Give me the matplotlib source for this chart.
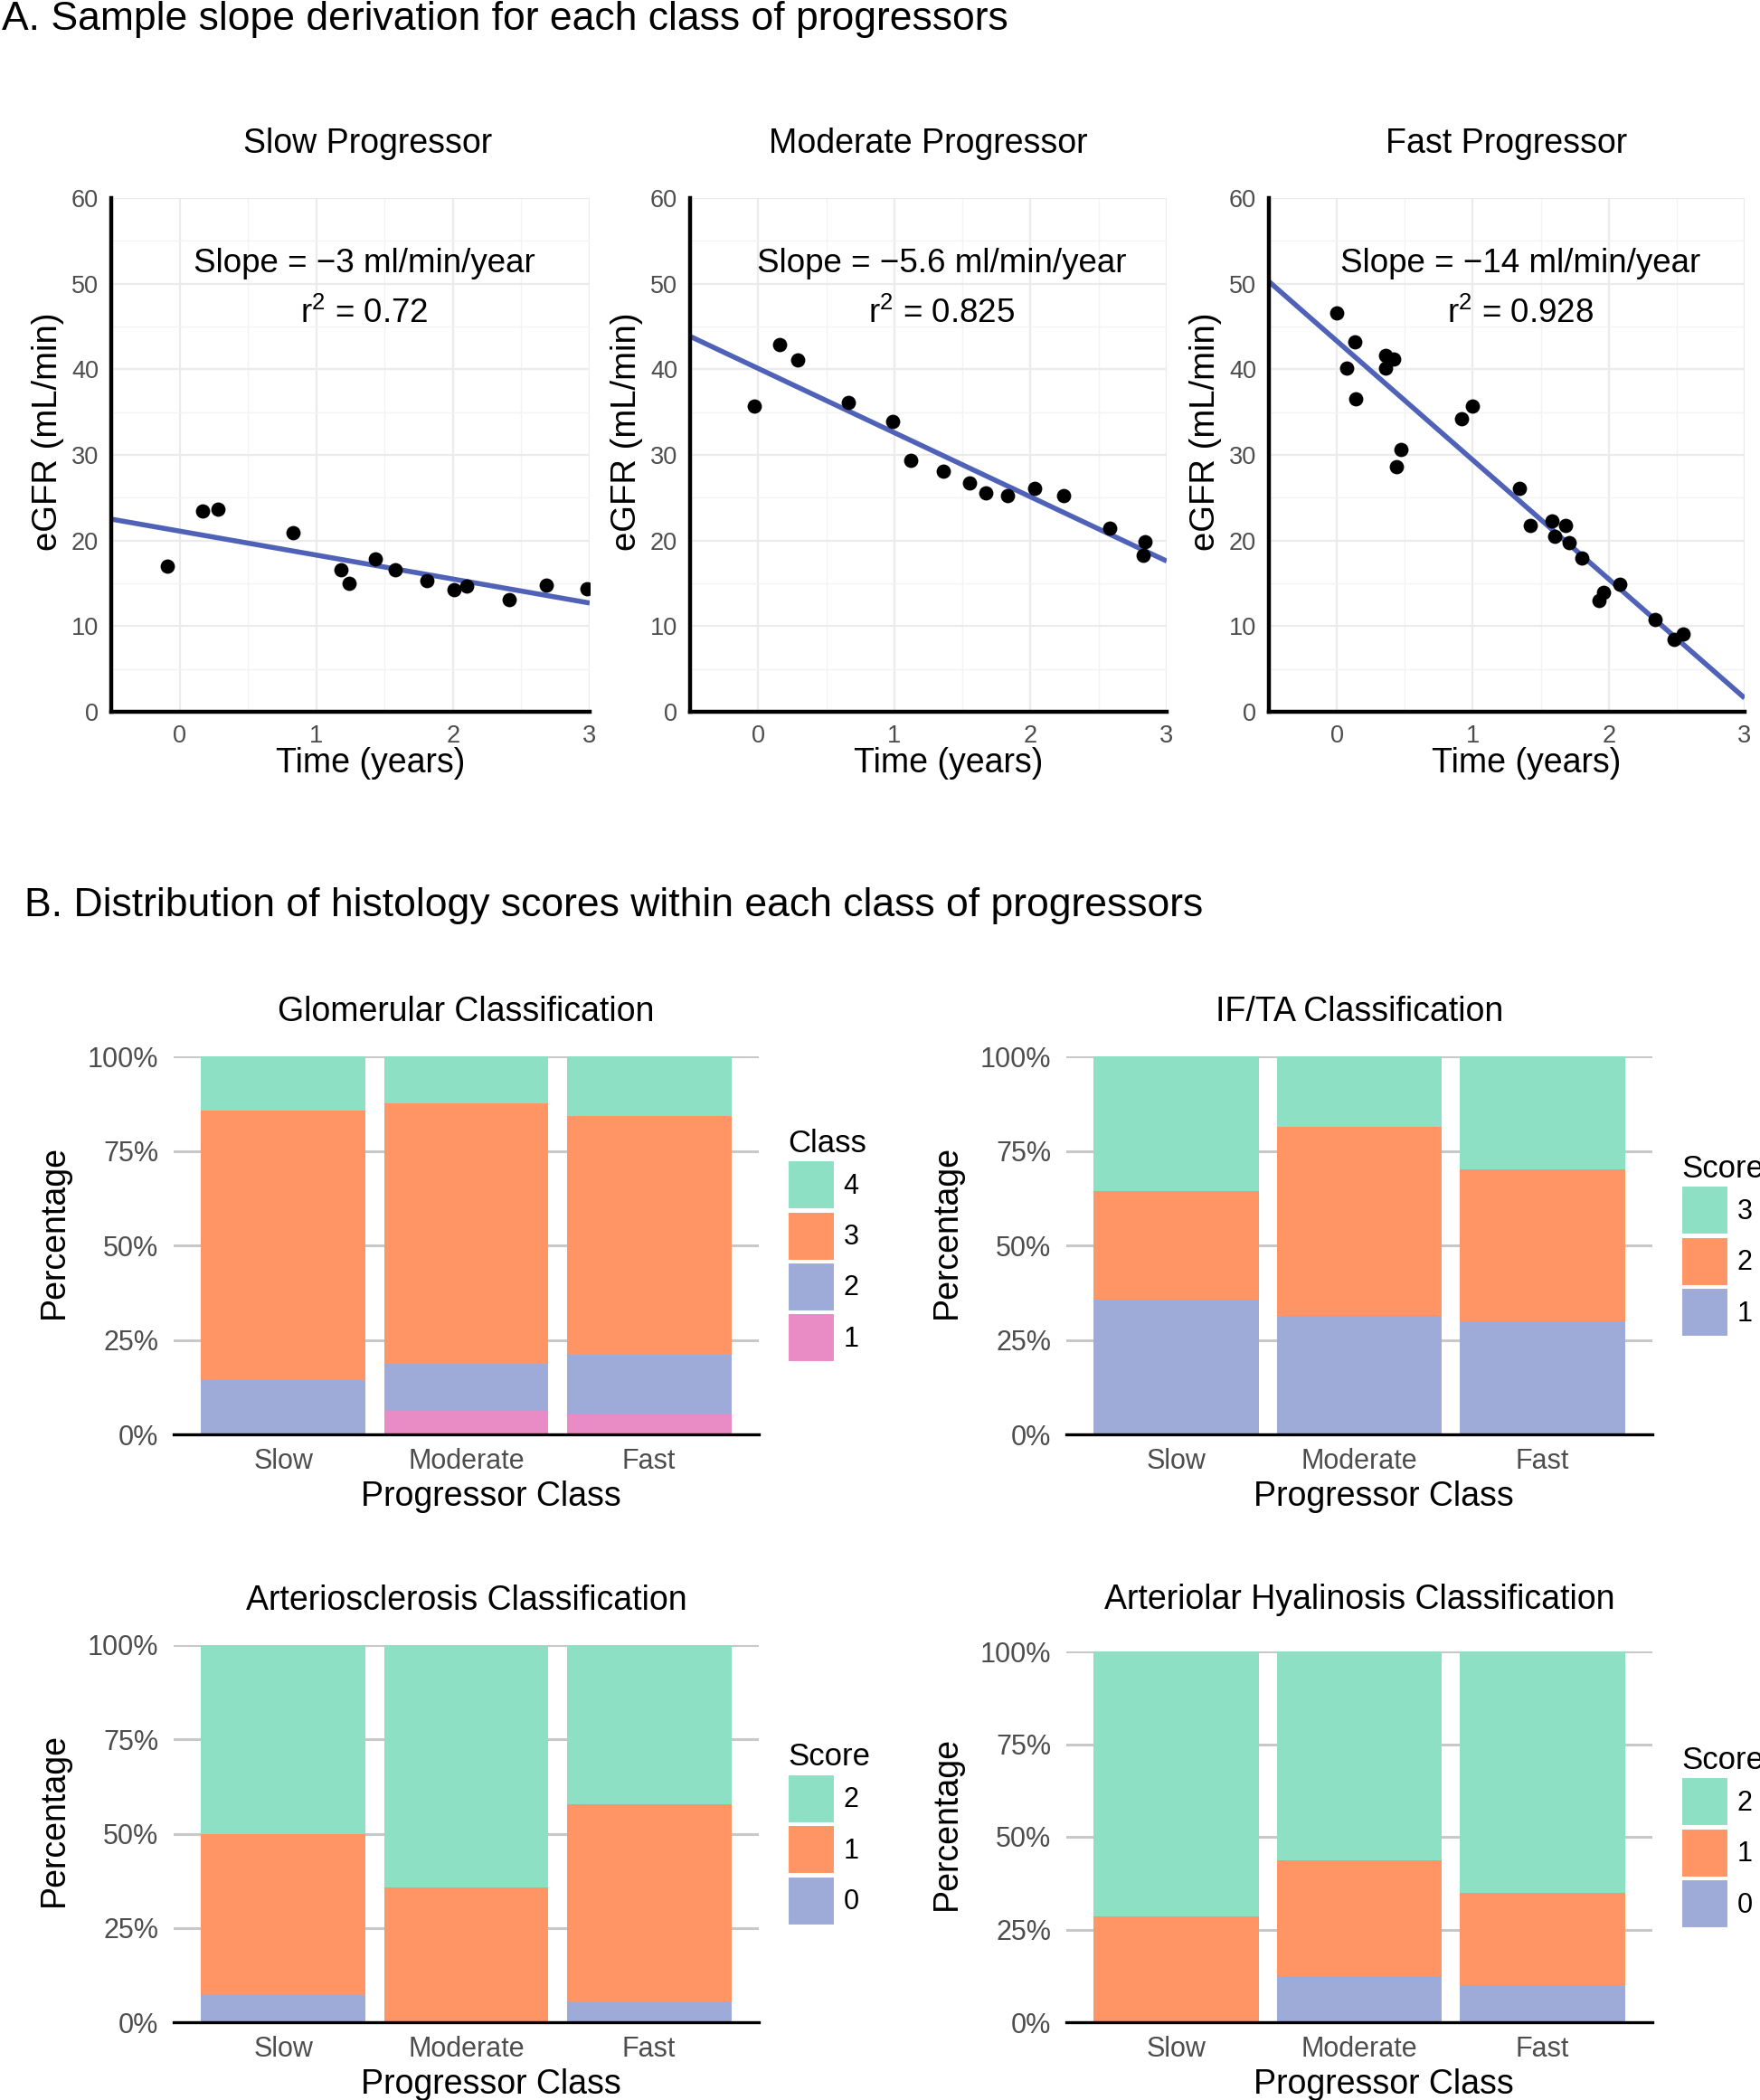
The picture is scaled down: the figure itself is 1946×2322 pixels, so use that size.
import numpy as np
import matplotlib
matplotlib.use("Agg")
import matplotlib.pyplot as plt
from matplotlib.patches import Patch
from matplotlib.ticker import MultipleLocator, PercentFormatter

plt.rcParams['font.family'] = ['Liberation Sans', 'DejaVu Sans']
plt.rcParams['mathtext.fontset'] = 'custom'
plt.rcParams['mathtext.rm'] = 'Liberation Sans'

# ---- Panel A: sample eGFR trajectories ----
slow_time = [-0.09, 0.17, 0.28, 0.83, 1.18, 1.24, 1.43, 1.58, 1.81, 2.01, 2.10, 2.41, 2.68, 2.98]
slow_egfr = [17.0, 23.5, 23.7, 20.9, 16.6, 15.0, 17.8, 16.6, 15.3, 14.3, 14.7, 13.1, 14.8, 14.4]

mod_time = [-0.03, 0.16, 0.29, 0.66, 0.99, 1.12, 1.36, 1.55, 1.67, 1.83, 2.03, 2.24, 2.58, 2.84, 2.83]
mod_egfr = [35.7, 42.9, 41.1, 36.1, 33.9, 29.4, 28.1, 26.7, 25.6, 25.2, 26.1, 25.2, 21.4, 19.9, 18.3]

fast_time = [0.00, 0.13, 0.07, 0.14, 0.36, 0.42, 0.36, 0.47, 0.44, 0.92, 1.00, 1.34, 1.42,
             1.58, 1.60, 1.68, 1.71, 1.80, 1.93, 1.96, 2.08, 2.34, 2.48, 2.55]
fast_egfr = [46.6, 43.2, 40.1, 36.5, 41.6, 41.2, 40.1, 30.6, 28.6, 34.2, 35.7, 26.1, 21.8,
             22.3, 20.5, 21.8, 19.8, 18.0, 13.0, 13.9, 14.9, 10.8, 8.4, 9.1]

fit_intercept = [21.1, 40.1, 43.3]
fit_slope = [-2.8, -7.5, -13.9]
slope_labels = ["Slope = \u22123 ml/min/year", "Slope = \u22125.6 ml/min/year", "Slope = \u221214 ml/min/year"]
r2_labels = ["0.72", "0.825", "0.928"]
titles_a = ["Slow Progressor", "Moderate Progressor", "Fast Progressor"]
title_x_a = [0.536, 0.5, 0.5]

# ---- Panel B: histology score distributions (%) ----
progressor = ["Slow", "Moderate", "Fast"]

glom_1 = [0.0, 6.25, 5.3]
glom_2 = [14.3, 12.5, 15.8]
glom_3 = [71.4, 68.75, 63.2]
glom_4 = [14.3, 12.5, 15.8]

ifta_1 = [35.7, 31.25, 30.0]
ifta_2 = [28.6, 50.0, 40.0]
ifta_3 = [35.7, 18.75, 30.0]

art_0 = [7.1, 0.0, 5.3]
art_1 = [42.9, 35.7, 52.6]
art_2 = [50.0, 64.3, 42.1]

hyal_0 = [0.0, 12.5, 10.0]
hyal_1 = [28.6, 31.25, 25.0]
hyal_2 = [71.4, 56.25, 65.0]

TEAL = '#8DE0C4'
ORANGE = '#FF9464'
BLUE = '#9EABD8'
PINK = '#E98CC6'
GREY_TXT = '#4D4D4D'

W, H = 1946, 2322
fig = plt.figure(figsize=(W / 100, H / 100), dpi=100)


def px_axes(left, top, right, bottom):
    return fig.add_axes([left / W, 1 - bottom / H, (right - left) / W, (bottom - top) / H])


def slope_panel(ax, x, y, b0, b1, title, title_x, slope_txt, r2):
    ax.grid(True, which='major', color='#EBEBEB', lw=1.6, zorder=0)
    ax.grid(True, which='minor', color='#F3F3F3', lw=1.0, zorder=0)
    xs = np.array([-0.5, 3.0])
    ax.plot(xs, b0 + b1 * xs, color='#4F62B8', lw=4.0, zorder=2, solid_capstyle='butt')
    ax.scatter(x, y, s=130, color='black', zorder=3, linewidths=0)
    ax.set_xlim(-0.5, 3)
    ax.set_ylim(0, 60)
    ax.xaxis.set_major_locator(MultipleLocator(1))
    ax.xaxis.set_minor_locator(MultipleLocator(0.5))
    ax.yaxis.set_major_locator(MultipleLocator(10))
    ax.yaxis.set_minor_locator(MultipleLocator(5))
    for side in ['top', 'right']:
        ax.spines[side].set_visible(False)
    for side in ['left', 'bottom']:
        ax.spines[side].set_linewidth(3.2)
        ax.spines[side].set_color('black')
        ax.spines[side].set_zorder(4)
    ax.tick_params(which='both', length=0, labelsize=19.5, labelcolor=GREY_TXT)
    ax.tick_params(axis='y', pad=10)
    ax.tick_params(axis='x', pad=10)
    ax.set_title(title, fontsize=27, pad=36, x=title_x)
    ax.set_xlabel("Time (years)", fontsize=27, labelpad=-1, x=0.542)
    ax.set_ylabel("eGFR (mL/min)", fontsize=27.5, labelpad=6, y=0.545)
    ax.text(1.35, 52.3, slope_txt, fontsize=26.5, ha='center', va='center')
    ax.text(1.35, 46.5, "r$^2$ = " + r2, fontsize=26.5, ha='center', va='center')


a_rects = [(123, 219, 652, 787), (763, 219, 1290, 787), (1403, 219, 1929, 787)]
a_data = [(slow_time, slow_egfr), (mod_time, mod_egfr), (fast_time, fast_egfr)]
for i in range(3):
    ax = px_axes(*a_rects[i])
    slope_panel(ax, a_data[i][0], a_data[i][1], fit_intercept[i], fit_slope[i],
                titles_a[i], title_x_a[i], slope_labels[i], r2_labels[i])


def stacked_panel(ax, layers, labels, colors, title, legend_title, title_pad=28):
    pos = np.arange(len(progressor))
    bottom = np.zeros(len(progressor))
    for vals, col in zip(layers, colors):
        ax.bar(pos, vals, width=0.9, bottom=bottom, color=col, zorder=2, linewidth=0)
        bottom += np.array(vals)
    ax.set_xlim(-0.6, 2.6)
    ax.set_ylim(0, 100)
    ax.set_yticks([0, 25, 50, 75, 100])
    ax.yaxis.set_major_formatter(PercentFormatter(decimals=0))
    ax.set_xticks(pos)
    ax.set_xticklabels(progressor)
    ax.grid(True, axis='y', color='#C8C8C8', lw=2.2, zorder=0)
    ax.set_axisbelow(True)
    for side in ['top', 'right', 'left']:
        ax.spines[side].set_visible(False)
    ax.spines['bottom'].set_linewidth(2.4)
    ax.spines['bottom'].set_zorder(4)
    ax.tick_params(length=0, labelsize=22, labelcolor=GREY_TXT)
    ax.tick_params(axis='y', pad=12)
    ax.tick_params(axis='x', pad=11)
    ax.set_title(title, fontsize=27, pad=title_pad)
    ax.set_xlabel("Progressor Class", fontsize=27, labelpad=4, x=0.542)
    ax.set_ylabel("Percentage", fontsize=27, labelpad=14, y=0.537)
    handles = [Patch(facecolor=c, edgecolor='white', lw=1.5) for c in colors][::-1]
    ax.legend(handles, labels[::-1], title=legend_title, loc='center left',
              bbox_to_anchor=(1.05, 0.5), frameon=False, fontsize=22,
              title_fontsize=25, handlelength=1.7, handleheight=2.34,
              labelspacing=0.08, handletextpad=0.3, borderpad=0,
              borderaxespad=0, alignment='left')


ax = px_axes(192, 1168, 839, 1586)
stacked_panel(ax, [glom_1, glom_2, glom_3, glom_4], ["1", "2", "3", "4"],
              [PINK, BLUE, ORANGE, TEAL], "Glomerular Classification", "Class")
ax = px_axes(1179, 1168, 1827, 1586)
stacked_panel(ax, [ifta_1, ifta_2, ifta_3], ["1", "2", "3"],
              [BLUE, ORANGE, TEAL], "IF/TA Classification", "Score")
ax = px_axes(192, 1819, 839, 2236)
stacked_panel(ax, [art_0, art_1, art_2], ["0", "1", "2"],
              [BLUE, ORANGE, TEAL], "Arteriosclerosis Classification", "Score")
ax = px_axes(1179, 1826, 1827, 2236)
stacked_panel(ax, [hyal_0, hyal_1, hyal_2], ["0", "1", "2"],
              [BLUE, ORANGE, TEAL], "Arteriolar Hyalinosis Classification", "Score",
              title_pad=34)

fig.text(2 / W, 1 - 21 / H, "A. Sample slope derivation for each class of progressors",
         fontsize=32, va='center', ha='left')
fig.text(27 / W, 1 - 1001 / H, "B. Distribution of histology scores within each class of progressors",
         fontsize=32, va='center', ha='left')

fig.savefig("out.png", dpi=100, facecolor='white')
